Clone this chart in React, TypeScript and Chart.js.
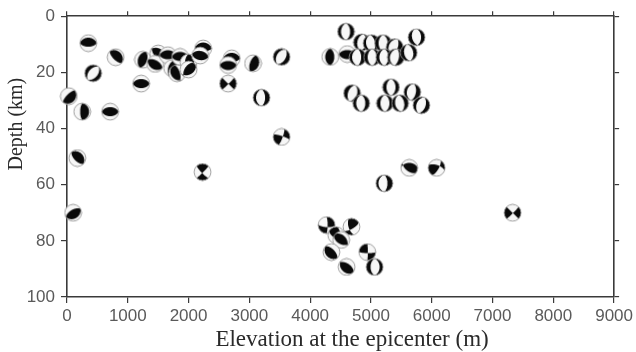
import { useEffect, useRef } from "react";
import { Chart, registerables } from "chart.js";

Chart.register(...registerables);

// Epicenter elevation (m) and hypocentral depth (km) of each focal mechanism
const elevation = [
  350, 430, 800, 30, 250, 710, 170, 100,
  1250, 1220, 1500, 1450, 1660, 1730, 1860, 1810, 2000, 2000, 2240, 2190,
  2710, 2650, 2650, 3060, 3200, 3530, 3530, 2230,
  4590, 4850, 5010, 5200, 5390, 5750,
  4330, 4610, 4780, 5020, 5220, 5410, 5620,
  4690, 4840, 5330, 5680, 5230, 5480, 5830,
  5220, 5630, 6080, 7330,
  4270, 4680, 4430, 4510, 4350, 4940, 4600, 5060,
];
const depth = [
  9.6, 20.3, 14.6, 28.5, 34, 34, 50.5, 70,
  15.5, 24, 13.3, 17, 13.9, 18.5, 14.5, 20.3, 16.5, 19, 11.5, 14,
  15, 17.4, 24, 16.8, 29, 14.5, 43, 55.5,
  5.5, 9.3, 9.6, 9.6, 11, 7.5,
  14.5, 13.5, 14.6, 14.6, 14.6, 14.6, 13,
  27.4, 31, 25.3, 27, 31, 31, 31.7,
  59.5, 54, 54, 70,
  74.4, 75, 78, 79.7, 84, 84, 89.3, 89.3,
];
// Focal mechanism parameters (degrees)
const strike = [
  270, 40, 315, 45, 0, 90, 315, 60,
  200, 90, 300, 120, 90, 30, 270, 140, 0, 60, 270, 100,
  270, 90, 45, 20, 0, 30, 20, 45,
  0, 10, 350, 0, 20, 0,
  180, 90, 0, 180, 0, 10, 350,
  200, 180, 0, 10, 0, 350, 20,
  0, 270, 30, 45,
  0, 60, 120, 120, 135, 0, 135, 0,
];
const dip = [
  35, 45, 25, 20, 20, 45, 30, 30,
  40, 45, 40, 35, 50, 40, 40, 30, 35, 40, 30, 45,
  35, 40, 85, 30, 55, 50, 80, 85,
  50, 45, 55, 45, 60, 45,
  40, 40, 55, 45, 50, 60, 45,
  50, 40, 45, 55, 45, 50, 50,
  60, 40, 70, 85,
  80, 70, 60, 50, 30, 85, 35, 40,
];
const rake = [
  90, -90, 90, 90, 90, 90, 90, 90,
  90, 90, 80, 90, 90, 100, 90, 70, 90, 110, 90, 90,
  90, 90, 0, 90, -90, -90, 10, 170,
  -90, -90, -90, -90, -90, -80,
  90, 90, -90, -90, -90, -90, -90,
  -90, -90, -90, -90, -90, -90, -90,
  -90, 60, 30, 0,
  -20, 150, 40, 80, 90, 170, 100, -90,
];

const X_MIN = 0;
const X_MAX = 9000;
const X_STEP = 1000;
const Y_MIN = 0;
const Y_MAX = 100;
const Y_STEP = 20;

const X_TITLE = "Elevation at the epicenter (m)";
const Y_TITLE = "Depth (km)";

function makeBall(s: number, d: number, r: number, size = 19): HTMLCanvasElement {
  const c = document.createElement("canvas");
  c.width = size;
  c.height = size;
  const ctx = c.getContext("2d")!;
  const img = ctx.createImageData(size, size);
  const R = size / 2 - 1.1;
  const cx = size / 2;
  const cy = size / 2;
  const rad = Math.PI / 180;
  const fs = s * rad, fd = d * rad, fr = r * rad;
  const n = [-Math.sin(fd) * Math.sin(fs), Math.sin(fd) * Math.cos(fs), -Math.cos(fd)];
  const u = [
    Math.cos(fr) * Math.cos(fs) + Math.cos(fd) * Math.sin(fr) * Math.sin(fs),
    Math.cos(fr) * Math.sin(fs) - Math.cos(fd) * Math.sin(fr) * Math.cos(fs),
    -Math.sin(fr) * Math.sin(fd),
  ];
  const SS = 4;
  for (let py = 0; py < size; py++) {
    for (let px = 0; px < size; px++) {
      let inside = 0;
      let black = 0;
      for (let a = 0; a < SS; a++) {
        for (let b = 0; b < SS; b++) {
          const x = (px + (a + 0.5) / SS - cx) / R;
          const y = -(py + (b + 0.5) / SS - cy) / R;
          const rr = x * x + y * y;
          if (rr > 1) continue;
          inside++;
          const rn = Math.sqrt(rr);
          const th = 2 * Math.asin(Math.min(1, rn / Math.SQRT2));
          let N = 0, E = 0;
          if (rn > 0) {
            N = (Math.sin(th) * y) / rn;
            E = (Math.sin(th) * x) / rn;
          }
          const D = Math.cos(th);
          const a1 = n[0] * N + n[1] * E + n[2] * D;
          const a2 = u[0] * N + u[1] * E + u[2] * D;
          if (a1 * a2 > 0) black++;
        }
      }
      const k = (py * size + px) * 4;
      if (inside > 0) {
        const g = Math.round(255 * (1 - black / inside)) * 0.93 + 10;
        img.data[k] = g;
        img.data[k + 1] = g;
        img.data[k + 2] = g;
        img.data[k + 3] = Math.round((255 * inside) / (SS * SS));
      }
    }
  }
  ctx.putImageData(img, 0, 0);
  ctx.beginPath();
  ctx.arc(cx, cy, R, 0, Math.PI * 2);
  ctx.strokeStyle = "rgba(150,150,150,0.9)";
  ctx.lineWidth = 1;
  ctx.stroke();
  return c;
}

export default function App() {
  const ref = useRef<HTMLCanvasElement | null>(null);

  useEffect(() => {
    if (!ref.current) return;
    const balls = elevation.map((_, i) => makeBall(strike[i], dip[i], rake[i]));
    const tickFont = { family: "'Liberation Sans', Arial, sans-serif", size: 17 };
    const axisColor = "#3a3a3a";
    const tickColor = "#5a5a5a";
    const plain = (v: any) => String(v);
    const chart = new Chart(ref.current, {
      type: "scatter",
      data: {
        datasets: [
          {
            data: elevation.map((x, i) => ({ x, y: depth[i] })),
            pointStyle: balls as any,
            pointRadius: 9,
            clip: false as any,
          },
        ],
      },
      options: {
        animation: false,
        responsive: false,
        devicePixelRatio: 1,
        layout: { padding: 0 },
        plugins: { legend: { display: false }, tooltip: { enabled: false } },
        scales: {
          x: {
            type: "linear",
            position: "bottom",
            min: X_MIN,
            max: X_MAX,
            ticks: {
              stepSize: X_STEP,
              color: tickColor,
              font: tickFont,
              padding: 3,
              maxRotation: 0,
              autoSkip: false,
              callback: plain,
            },
            grid: { drawOnChartArea: false, drawTicks: true, tickLength: 6, color: axisColor, lineWidth: 1.2 },
            border: { color: axisColor, width: 1.6 },
            title: {
              display: true,
              text: "\u00A0\u00A0\u00A0\u00A0" + X_TITLE,
              color: "#2a2a2a",
              font: { family: "'Liberation Serif', 'Times New Roman', serif", size: 23, lineHeight: 1 },
              padding: { top: 0, bottom: 0.5 },
            },
            afterFit: (s: any) => {
              s.height = 55;
            },
          },
          y: {
            type: "linear",
            position: "left",
            reverse: true,
            min: Y_MIN,
            max: Y_MAX,
            ticks: { stepSize: Y_STEP, color: tickColor, font: tickFont, padding: 6, callback: plain },
            grid: { drawOnChartArea: false, drawTicks: true, tickLength: 6, color: axisColor, lineWidth: 1.2 },
            border: { color: axisColor, width: 1.6 },
            title: {
              display: true,
              text: "\u00A0".repeat(13) + Y_TITLE,
              color: "#2a2a2a",
              font: { family: "'Liberation Serif', 'Times New Roman', serif", size: 20, lineHeight: 1 },
              padding: { top: 7, bottom: 0 },
            },
            afterFit: (s: any) => {
              s.width = 67;
            },
          },
          x2: {
            type: "linear",
            position: "top",
            min: X_MIN,
            max: X_MAX,
            ticks: { stepSize: X_STEP, display: false },
            grid: { drawOnChartArea: false, drawTicks: true, tickLength: 5, color: axisColor, lineWidth: 1.2 },
            border: { color: axisColor, width: 1.6 },
            afterFit: (s: any) => {
              s.height = 16;
            },
          },
          y2: {
            type: "linear",
            position: "right",
            reverse: true,
            min: Y_MIN,
            max: Y_MAX,
            ticks: { stepSize: Y_STEP, display: false },
            grid: { drawOnChartArea: false, drawTicks: true, tickLength: 5, color: axisColor, lineWidth: 1.2 },
            border: { color: axisColor, width: 1.6 },
            afterFit: (s: any) => {
              s.width = 20;
            },
          },
        },
      },
    });
    return () => chart.destroy();
  }, []);

  return (
    <div style={{ position: "absolute", left: 0, top: 0, width: 636, height: 352, background: "#fff" }}>
      <canvas ref={ref} width={636} height={352} style={{ display: "block" }} />
    </div>
  );
}
